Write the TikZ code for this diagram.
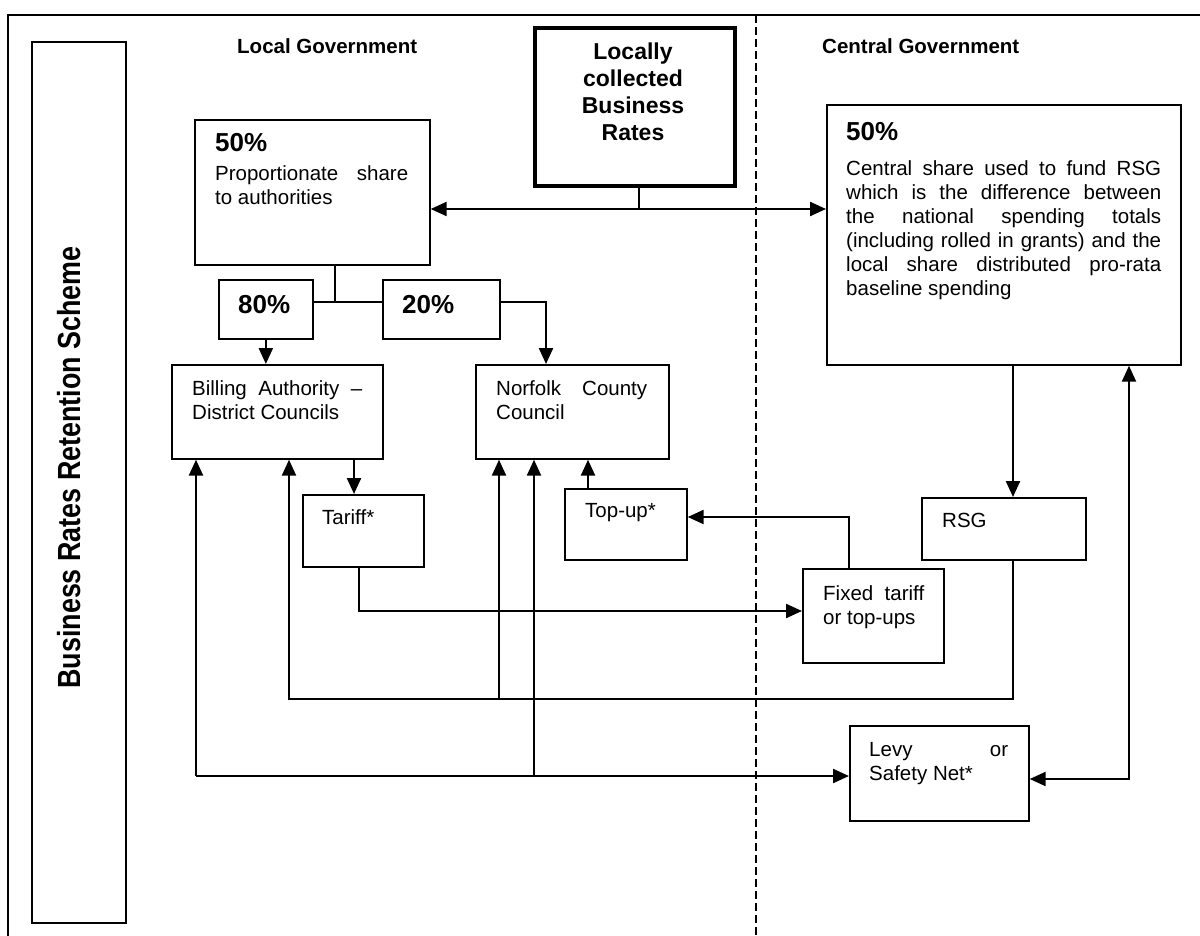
\documentclass[tikz,border=0pt]{standalone}
\usepackage{fontspec}
\setmainfont{Liberation Sans}
\usepackage{graphicx}
\usetikzlibrary{arrows.meta}
\newcommand\fbody{\fontsize{20.5}{24}\selectfont}
\newcommand\fhead{\fontsize{20.5}{24}\selectfont\bfseries}
\newcommand\fpct{\fontsize{26}{30}\selectfont\bfseries}
\newcommand\fbig{\fontsize{23}{27}\selectfont\bfseries}
\newcommand\ftitle{\fontsize{32}{32}\selectfont\bfseries}
\begin{document}
\begin{tikzpicture}[x=1pt,y=-1pt,
  box/.style={draw, line width=1.7pt, inner sep=0pt, anchor=north west},
  txt/.style={anchor=north west, inner sep=0pt, align=left, font=\fbody},
  pct/.style={anchor=north west, inner sep=0pt, font=\fpct},
  arr/.style={line width=2.3pt, -{Triangle[length=16pt,width=14pt]}},
  darr/.style={line width=2.3pt, {Triangle[length=16pt,width=14pt]}-{Triangle[length=16pt,width=14pt]}},
  thin/.style={line width=1.6pt}]
\useasboundingbox (0,0) rectangle (1200,936);
% frame
\draw[line width=1.6pt] (8,936) -- (8,15);
\draw[line width=2.4pt] (7.2,15) -- (1200,15);
\draw[line width=1.5pt, dash pattern=on 8pt off 4pt] (756,15) -- (756,936);
% title
\node[box, minimum width=94pt, minimum height=881pt] (titlebox) at (31,41) {};
\node[rotate=90, anchor=base, inner sep=0pt] (title) at (80,467.5)
  {\scalebox{0.84}[1]{\ftitle Business Rates Retention Scheme}};
% headers
\node[anchor=north west, inner sep=0pt, font=\fhead] (lochead) at (237,38) {Local Government};
\node[anchor=north west, inner sep=0pt, font=\fhead] (cenhead) at (822,38) {Central Government};
% boxes
\node[box, line width=3.8pt, minimum width=200pt, minimum height=158pt] (lcbr) at (533,26) {};
\node[anchor=north, inner sep=0pt, align=center, font=\fbig] (lcbrtext) at (633,43)
  {Locally\\collected\\Business\\Rates};
\node[box, minimum width=235pt, minimum height=145pt] (prop) at (194,119) {};
\node[pct] (proppct) at (215,133) {50\%};
\node[txt] (proptext) at (215,165) {\makebox[193pt][s]{Proportionate share}\\to authorities};
\node[box, minimum width=354pt, minimum height=260pt] (central) at (826,104) {};
\node[pct] (cenpct) at (846,122) {50\%};
\node[txt] (centext) at (846,160)
  {\makebox[315pt][s]{Central share used to fund RSG}\\
   \makebox[315pt][s]{which is the difference between}\\
   \makebox[315pt][s]{the national spending totals}\\
   \makebox[315pt][s]{(including rolled in grants) and the}\\
   \makebox[315pt][s]{local share distributed pro-rata}\\
   baseline spending};
\node[box, minimum width=94pt, minimum height=59pt] (p80) at (218,279) {};
\node[pct] (p80text) at (238,295) {80\%};
\node[box, minimum width=117pt, minimum height=59pt] (p20) at (382,279) {};
\node[pct] (p20text) at (402,295) {20\%};
\node[box, minimum width=211pt, minimum height=94pt] (billing) at (171,364) {};
\node[txt] (billtext) at (192,380) {\makebox[170pt][s]{Billing Authority –}\\District Councils};
\node[box, minimum width=193pt, minimum height=94pt] (norfolk) at (475,364) {};
\node[txt] (norftext) at (496,380) {\makebox[151pt][s]{Norfolk County}\\Council};
\node[box, minimum width=121pt, minimum height=72pt] (tariff) at (302,494) {};
\node[txt] (tarifftext) at (322,509) {Tariff*};
\node[box, minimum width=122pt, minimum height=71pt] (topup) at (564,488) {};
\node[txt] (topuptext) at (585,503) {Top-up*};
\node[box, minimum width=164pt, minimum height=62pt] (rsg) at (921,497) {};
\node[txt] (rsgtext) at (942,513) {RSG};
\node[box, minimum width=141pt, minimum height=94pt] (fixed) at (802,568) {};
\node[txt] (fixedtext) at (823,585) {\makebox[101pt][s]{Fixed tariff}\\or top-ups};
\node[box, minimum width=179pt, minimum height=95pt] (levy) at (849,725) {};
\node[txt] (levytext) at (869,742) {\makebox[139pt][s]{Levy or}\\Safety Net*};
% routing coordinates
\coordinate (j1) at (639,209);
\coordinate (j2) at (335,302);
\coordinate (xa) at (196,0);
\coordinate (xb) at (289,0);
\coordinate (xc) at (354,0);
\coordinate (xd) at (359,0);
\coordinate (xe) at (499,0);
\coordinate (xf) at (534,0);
\coordinate (xg) at (546,0);
\coordinate (xh) at (588,0);
\coordinate (xi) at (849,0);
\coordinate (xj) at (1013,0);
\coordinate (xk) at (1129,0);
\coordinate (ya) at (0,611);
\coordinate (yb) at (0,517);
\coordinate (yc) at (0,699);
\coordinate (yd) at (0,776);
\coordinate (ye) at (0,779);
% connectors
\draw[thin] (j1 |- lcbr.south) -- (j1);
\draw[darr] (j1 -| prop.east) -- (j1 -| central.west);
\draw[thin] (j2 |- prop.south) -- (j2);
\draw[thin] (j2 -| p80.east) -- (j2 -| p20.west);
\draw[arr] (p80.south) -- (billing.north -| p80.south);
\draw[arr] (j2 -| p20.east) -| (norfolk.north -| xg);
\draw[arr] (billing.south -| xc) -- (tariff.north -| xc);
\draw[arr] (tariff.south -| xd) |- (fixed.west |- ya);
\draw[arr] (fixed.north -| xi) |- (topup.east |- yb);
\draw[arr] (topup.north -| xh) -- (norfolk.south -| xh);
\draw[arr] (central.south -| xj) -- (rsg.north -| xj);
\draw[arr] (rsg.south -| xj) |- (xb |- yc) -- (billing.south -| xb);
\draw[arr] (xe |- yc) -- (norfolk.south -| xe);
\draw[arr] (xa |- yd) -- (billing.south -| xa);
\draw[arr] (xa |- yd) -- (levy.west |- yd);
\draw[arr] (xf |- yd) -- (norfolk.south -| xf);
\draw[darr] (levy.east |- ye) -| (central.south -| xk);
\end{tikzpicture}
\end{document}
